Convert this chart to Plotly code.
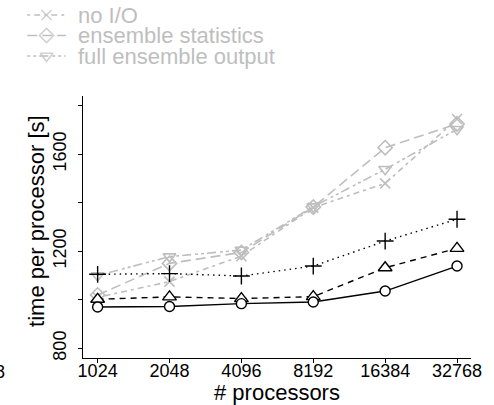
import numpy as np
import plotly.graph_objects as go

# ---------------- data ----------------
processors = [1024, 2048, 4096, 8192, 16384, 32768]
x_tick_labels = ["1024", "2048", "4096", "8192", "16384", "32768"]

no_io = [1010, 1075, 1180, 1380, 1480, 1745]            # gray x, dash-dot
ensemble_statistics = [1020, 1150, 1195, 1382, 1627, 1725]  # gray diamond, long dash
full_ensemble_output = [1100, 1178, 1205, 1384, 1538, 1703]  # gray triangle-down

black_circle = [970, 972, 984, 991, 1036, 1139]        # solid
black_triangle = [1002, 1012, 1005, 1013, 1132, 1212]  # dashed
black_plus = [1105, 1108, 1098, 1139, 1242, 1332]      # dotted

y_tick_vals = [800, 1000, 1200, 1400, 1600, 1800]
y_tick_text = ["800", "", "1200", "", "1600", ""]

legend_names = ["no I/O", "ensemble statistics", "full ensemble output"]

# ---------------- styling ----------------
W, H = 494, 405
B = 47
PH = H - B              # paper height in px (top margin 0)
PLOT_L, PLOT_R, PLOT_T = 80, 482, 96
GRAY = "#bebebe"
FONT = "Liberation Sans, Arial, Helvetica, sans-serif"

gray_series = [
    (no_io, "x-thin-open", 10, "3px,4px,6px,4px"),
    (ensemble_statistics, "diamond-open", 11, "10px,5px"),
    (full_ensemble_output, "triangle-down-open", 11, "3px,3px,3px,3px,9px,4px"),
]

fig = go.Figure()

for (vals, sym, sz, dash), name in zip(gray_series, legend_names):
    fig.add_trace(go.Scatter(
        x=processors, y=vals, mode="lines+markers", name=name, showlegend=False,
        line=dict(color=GRAY, width=1.6, dash=dash),
        marker=dict(symbol=sym, size=sz, color=GRAY, line=dict(color=GRAY, width=1.6)),
    ))

black_series = [
    (black_plus, "cross-thin-open", 12, "1.5px,4px", "dotted series", "black"),
    (black_triangle, "triangle-up", 12, "6px,5px", "dashed series", "white"),
    (black_circle, "circle", 10, "solid", "solid series", "white"),
]
for vals, sym, sz, dash, name, fill in black_series:
    fig.add_trace(go.Scatter(
        x=processors, y=vals, mode="lines+markers", name=name, showlegend=False,
        line=dict(color="black", width=1.4, dash=dash),
        marker=dict(symbol=sym, size=sz, color=fill, line=dict(color="black", width=1.4)),
    ))

# ---------------- manual legend (pixel-unit overlay axes) ----------------
leg_rows = [15, 35.5, 56]
leg_x0, leg_x1, leg_text_x = 22, 62, 74
for (vals, sym, sz, dash), name, ry in zip(gray_series, legend_names, leg_rows):
    fig.add_trace(go.Scatter(
        x=[leg_x0, (leg_x0 + leg_x1) / 2, leg_x1], y=[ry, ry, ry],
        xaxis="x2", yaxis="y2", mode="lines+markers", showlegend=False, hoverinfo="skip",
        line=dict(color=GRAY, width=1.6, dash=dash),
        marker=dict(symbol=sym, size=[0, sz, 0], color=GRAY, line=dict(color=GRAY, width=1.6)),
    ))
    fig.add_annotation(x=leg_text_x, y=ry, xref="x2", yref="y2", text=name, showarrow=False,
                       xanchor="left", yanchor="middle", borderpad=0,
                       font=dict(family=FONT, size=22, color=GRAY))

x_lo, x_hi = np.log10(processors[0]) - 0.04 * np.log10(32), np.log10(processors[-1]) + 0.04 * np.log10(32)

fig.update_layout(
    width=W, height=H,
    margin=dict(l=0, r=0, t=0, b=B, pad=0),
    paper_bgcolor="white", plot_bgcolor="rgba(0,0,0,0)",
    font=dict(family=FONT, size=18, color="black"),
    xaxis=dict(type="log", domain=[PLOT_L / W, PLOT_R / W], range=[x_lo, x_hi],
               tickvals=processors, ticktext=x_tick_labels, ticks="outside", ticklen=4,
               tickwidth=1.2, tickcolor="black", showline=True, linecolor="black", linewidth=1.3,
               showgrid=False, zeroline=False, tickfont=dict(size=18), anchor="y",
               ticklabelstandoff=-8),
    yaxis=dict(domain=[0, (PH - PLOT_T) / PH], range=[760, 1840],
               tickvals=y_tick_vals, ticktext=y_tick_text, tickangle=-90, ticks="outside", ticklen=4,
               tickwidth=1.2, tickcolor="black", showline=True, linecolor="black", linewidth=1.3,
               showgrid=False, zeroline=False, tickfont=dict(size=18), anchor="x",
               ticklabelstandoff=5),
    xaxis2=dict(domain=[0, 1], range=[0, W], visible=False, anchor="y2"),
    yaxis2=dict(domain=[0, 1], range=[PH, 0], visible=False, anchor="x2"),
    showlegend=False,
)

# axis titles
fig.add_annotation(x=(PLOT_L + PLOT_R) / 2 / W, y=0, xref="paper", yref="paper", yshift=-34,
                   text="# processors", showarrow=False, xanchor="center", yanchor="middle",
                   font=dict(family=FONT, size=22, color="black"))
fig.add_annotation(x=32 / W, y=(PH - 221) / PH, xref="paper", yref="paper", textangle=-90,
                   text="time per processor [s]", showarrow=False, xanchor="center", yanchor="middle",
                   font=dict(family=FONT, size=22, color="black"))
# clipped fragment of a neighbouring label at the left edge
fig.add_annotation(x=0, y=0, xref="paper", yref="paper", yshift=-14, xshift=1, text="8",
                   showarrow=False, xanchor="right", yanchor="middle",
                   font=dict(family=FONT, size=18, color="black"))

fig.write_html("out.html")
